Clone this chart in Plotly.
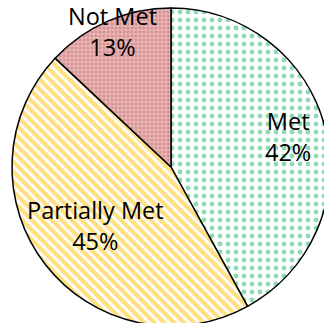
import math
import plotly.graph_objects as go

labels = ["Met", "Partially Met", "Not Met"]
values = [42, 45, 13]
label_radius = [0.76, 0.60, 0.93]  # fraction of pie radius where each label sits

fig = go.Figure(go.Pie(
    labels=labels,
    values=values,
    sort=False,
    direction="clockwise",
    rotation=0,
    textinfo="none",
    marker=dict(
        colors=["white", "white", "#DA9090"],
        line=dict(color="black", width=1.5),
        pattern=dict(
            shape=[".", "\\", "+"],
            fgcolor=["#1FB46A", "#FFC000", "white"],
            bgcolor=["white", "white", "#DA9090"],
            size=[8, 7, 4],
            solidity=[0.3, 0.6, 0.4],
            fillmode="overlay",
        ),
    ),
    showlegend=False,
    hoverinfo="none",
))

total = sum(values)
cum = 0
annotations = []
for lab, v, rf in zip(labels, values, label_radius):
    mid = (cum + v / 2) / total * 2 * math.pi
    cum += v
    annotations.append(dict(
        x=0.5 + 0.5 * rf * math.sin(mid),
        y=0.5 + 0.5 * rf * math.cos(mid),
        xref="paper", yref="paper",
        text=f"{lab}<br>{round(v / total * 100)}%",
        showarrow=False,
        xanchor="center", yanchor="middle",
        font=dict(family="Open Sans", size=23.5, color="black"),
    ))

fig.update_layout(
    width=331,
    height=330,
    margin=dict(l=12, r=1, t=8, b=4),
    paper_bgcolor="white",
    plot_bgcolor="white",
    annotations=annotations,
)

fig.write_html(
    "out.html",
    post_script="document.body.style.overflow='hidden';document.documentElement.style.overflow='hidden';document.body.style.margin='0';",
)
